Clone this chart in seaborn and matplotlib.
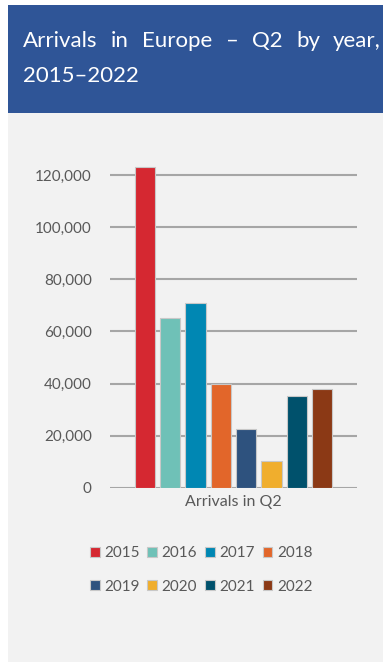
import pandas as pd
import matplotlib.pyplot as plt
import seaborn as sns
from matplotlib.patches import Rectangle

# data
years = ["2015", "2016", "2017", "2018", "2019", "2020", "2021", "2022"]
arrivals = [123000, 65000, 71000, 40000, 22400, 10400, 35200, 38100]
colors = ["#d52831", "#6fc1b7", "#0087b3", "#e2662a",
          "#2e527e", "#f0ae2d", "#00516c", "#8b3915"]
category = "Arrivals in Q2"
title_words = ["Arrivals", "in", "Europe", "–", "Q2", "by", "year,"]

df = pd.DataFrame({"period": category, "year": years, "arrivals": arrivals})

sns.set_theme(style="white")
plt.rcParams["font.family"] = ["Lato", "DejaVu Sans"]

fig = plt.figure(figsize=(3.83, 6.62), dpi=100, facecolor="white")

# ── panel background + title banner ──────────────────────────────────────────
fig.patches.append(Rectangle((8 / 383, 0), 1, 0.829, transform=fig.transFigure,
                             facecolor="#f2f2f2", edgecolor="none", zorder=-2))
fig.patches.append(Rectangle((8 / 383, 0.829), 1, 0.163, transform=fig.transFigure,
                             facecolor="#2f5597", edgecolor="none", zorder=-2))

# first title line is justified across the banner
renderer = fig.canvas.get_renderer()
x0, x1 = 23 / 383, 381 / 383
words = [fig.text(0, 0.929, w, color="white", fontsize=16, va="baseline")
         for w in title_words]
widths = [t.get_window_extent(renderer).width / fig.bbox.width for t in words]
gap = (x1 - x0 - sum(widths)) / (len(words) - 1)
x = x0
for t, w in zip(words, widths):
    t.set_x(x)
    x += w + gap
fig.text(x0, 0.876, "2015–2022", color="white", fontsize=16, va="baseline")

# ── bar chart ────────────────────────────────────────────────────────────────
ax = fig.add_axes([0.287, 0.263, 0.645, 0.512])
ax.set_facecolor("none")
sns.barplot(data=df, x="period", y="arrivals", hue="year", palette=colors,
            hue_order=years, width=0.82, gap=0.2, saturation=1,
            edgecolor="#c8c8c8", linewidth=0.8, ax=ax, legend=True)

ax.set_ylim(0, 130000)
ax.set_yticks(range(0, 120001, 20000))
ax.set_yticklabels([f"{v:,}" for v in range(0, 120001, 20000)])
ax.set_xlim(-0.5, 0.5)
ax.yaxis.grid(True, color="#a6a6a6", linewidth=1.5)
ax.set_axisbelow(True)
for s in ax.spines.values():
    s.set_visible(False)
ax.set_xlabel("")
ax.set_ylabel("")
ax.tick_params(axis="y", length=0, colors="#595959", labelsize=11, pad=13)
ax.tick_params(axis="x", length=0, colors="#595959", labelsize=11.5, pad=5)

# legend filled row by row
handles, labels = ax.get_legend_handles_labels()
ax.legend_.remove()
order = [0, 4, 1, 5, 2, 6, 3, 7]
fig.legend([handles[i] for i in order], [labels[i] for i in order], ncol=4,
           loc="center", bbox_to_anchor=(0.525, 0.139), frameon=False,
           fontsize=11, handlelength=0.65, handleheight=0.65,
           handletextpad=0.3, columnspacing=0.5, labelspacing=1.25,
           labelcolor="#595959")

plt.savefig("out.png", dpi=100)
